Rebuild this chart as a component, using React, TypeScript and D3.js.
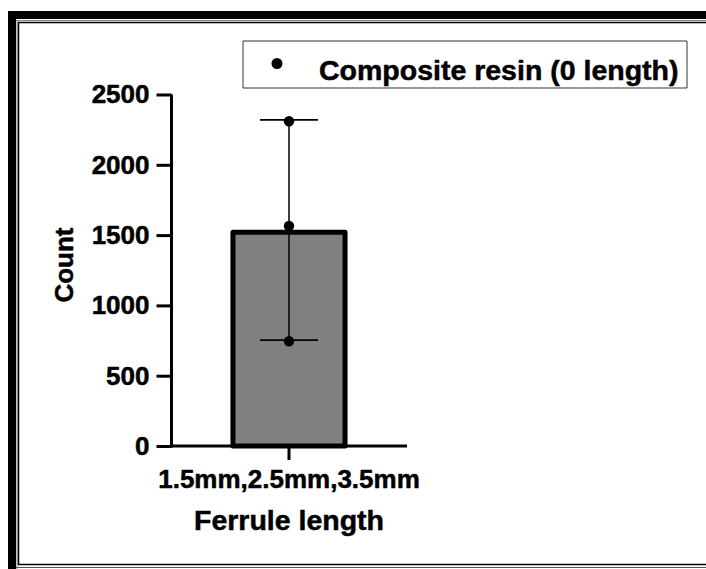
import React, {useEffect, useRef} from 'react';
import {axisBottom, axisLeft, scaleBand, scaleLinear, select} from 'd3';

const categories = ['1.5mm,2.5mm,3.5mm'];
const seriesName = 'Composite resin (0 length)';
const barValues = [1520];
const pointValues = [2310, 1565, 745];
const errorLow = [753];
const errorHigh = [2320];
const yTicks = [0, 500, 1000, 1500, 2000, 2500];
const xTitle = 'Ferrule length';
const yTitle = 'Count';

const W = 706;
const H = 569;
const FONT = '"Liberation Sans", Arial, sans-serif';

const App = () => {
    const svgRef = useRef<SVGSVGElement>(null);

    useEffect(() => {
        document.body.style.margin = '0';
        const svg = select(svgRef.current);
        svg.selectAll('*').remove();

        // frame around the picture (screenshot border)
        svg.append('rect').attr('x', 8).attr('y', 11).attr('width', W - 8).attr('height', 8).attr('fill', '#000');
        svg.append('rect').attr('x', 8).attr('y', 11).attr('width', 8).attr('height', H - 11).attr('fill', '#000');
        svg.append('line').attr('x1', 16).attr('x2', W).attr('y1', 20.5).attr('y2', 20.5).attr('stroke', '#888').attr('stroke-width', 1);
        svg.append('line').attr('x1', 17).attr('x2', 17).attr('y1', 20).attr('y2', H).attr('stroke', '#888').attr('stroke-width', 1);
        svg.append('path').attr('d', `M${W},22.5H18.5V564.5H${W}`)
            .attr('fill', 'none').attr('stroke', '#000').attr('stroke-width', 1.5);
        svg.append('line').attr('x1', 16).attr('x2', W).attr('y1', 567.5).attr('y2', 567.5).attr('stroke', '#555').attr('stroke-width', 1.2);

        // scales
        const x = scaleBand().domain(categories).range([171, 407]).padding(0.356);
        const y = scaleLinear().domain([0, 2500]).range([446, 94.5]);

        const chart = svg.append('g').attr('font-family', FONT).attr('font-weight', 'bold')
            .attr('stroke-linejoin', 'round');

        // bar
        chart.selectAll('.bar')
            .data(categories)
            .join('rect')
            .attr('class', 'bar')
            .attr('x', d => x(d)!)
            .attr('width', x.bandwidth())
            .attr('y', (d, i) => y(barValues[i]))
            .attr('height', (d, i) => y(0) - y(barValues[i]))
            .attr('fill', '#808080')
            .attr('stroke', '#000')
            .attr('stroke-width', 5);

        // axes
        const yAxis = axisLeft(y).tickValues(yTicks).tickSize(15).tickPadding(7).tickFormat(d => String(d));
        const gy = chart.append('g').attr('transform', 'translate(171.5,0)').call(yAxis);
        gy.select('.domain').attr('stroke-width', 3).attr('d', `M-0,${y(2500)}V${y(0) + 1.5}`);
        gy.selectAll('.tick line').attr('stroke-width', 3);
        gy.selectAll('.tick text').attr('font-size', 26).attr('font-family', FONT).attr('font-weight', 'bold')
            .attr('fill', '#000').attr('stroke', '#000').attr('stroke-width', 0.5);

        const xAxis = axisBottom(x).tickSize(14).tickPadding(10);
        const gx = chart.append('g').attr('transform', `translate(0,${y(0)})`).call(xAxis);
        gx.select('.domain').attr('stroke-width', 3).attr('d', 'M170,0H407');
        gx.selectAll('.tick line').attr('stroke-width', 3);
        gx.selectAll('.tick text').attr('font-size', 26).attr('font-family', FONT).attr('font-weight', 'bold')
            .attr('fill', '#000').attr('stroke', '#000').attr('stroke-width', 0.5);

        // error bar
        const cx = x(categories[0])! + x.bandwidth() / 2;
        chart.append('line').attr('x1', cx).attr('x2', cx)
            .attr('y1', y(errorHigh[0])).attr('y2', y(errorLow[0]))
            .attr('stroke', '#000').attr('stroke-width', 1.5);
        [errorHigh[0], errorLow[0]].forEach(v => {
            chart.append('line').attr('x1', cx - 29).attr('x2', cx + 29)
                .attr('y1', y(v)).attr('y2', y(v))
                .attr('stroke', '#000').attr('stroke-width', 1.8);
        });

        // points
        chart.selectAll('.pt')
            .data(pointValues)
            .join('circle')
            .attr('class', 'pt')
            .attr('cx', cx)
            .attr('cy', d => y(d))
            .attr('r', 5.2)
            .attr('fill', '#000');

        // titles
        chart.append('text').attr('x', cx).attr('y', 530).attr('text-anchor', 'middle')
            .attr('font-size', 28.5).attr('stroke', '#000').attr('stroke-width', 0.5).text(xTitle);
        chart.append('text').attr('transform', 'translate(73,265) rotate(-90)').attr('text-anchor', 'middle')
            .attr('font-size', 26).attr('stroke', '#000').attr('stroke-width', 0.5).text(yTitle);

        // legend
        const lg = chart.append('g');
        lg.append('rect').attr('x', 243).attr('y', 41).attr('width', 444).attr('height', 47)
            .attr('fill', '#fff').attr('stroke', '#333').attr('stroke-width', 1);
        lg.append('circle').attr('cx', 277).attr('cy', 63.5).attr('r', 5.5).attr('fill', '#000');
        lg.append('text').attr('x', 319).attr('y', 80).attr('font-size', 28.5)
            .attr('stroke', '#000').attr('stroke-width', 0.5).text(seriesName);
    }, []);

    return <svg ref={svgRef} width={W} height={H} style={{display: 'block', background: '#fff'}}/>;
};

export default App;
